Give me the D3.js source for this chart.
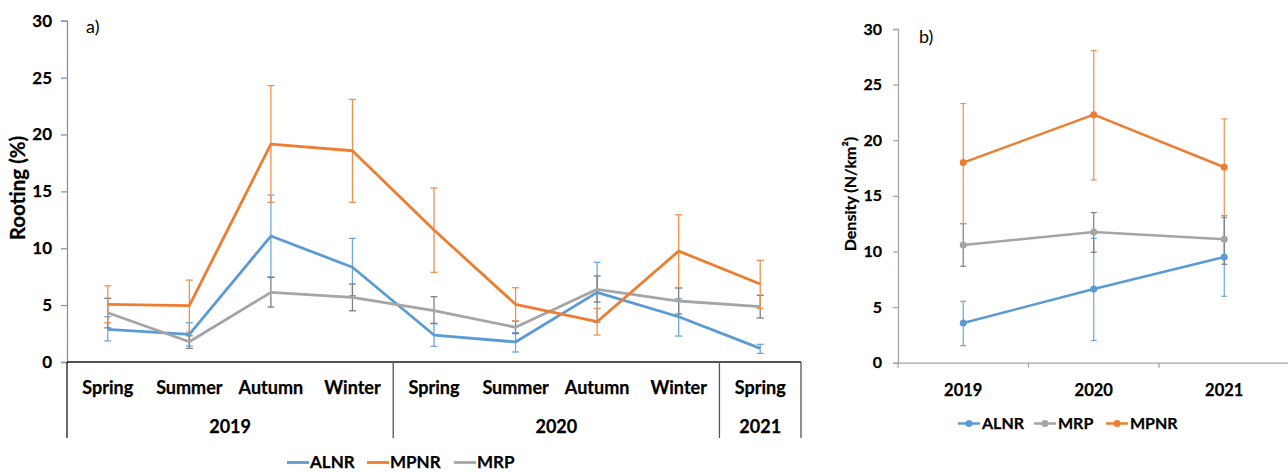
<!DOCTYPE html>
<html>
<head>
<meta charset="utf-8">
<script src="https://cdn.jsdelivr.net/npm/d3@7"></script>
<style>
  html, body { margin: 0; padding: 0; background: #fff; }
  svg { display: block; font-family: Lato, "Open Sans", sans-serif; }
  .bold { font-weight: 700; fill: #000; stroke: #000; stroke-width: 0.25px; }
</style>
</head>
<body>
<svg id="chart" width="1288" height="472"></svg>
<script>
// ---------- Data: panel a) ----------
const seasons = ["Spring","Summer","Autumn","Winter","Spring","Summer","Autumn","Winter","Spring"];
const yearGroups = ["2019","2020","2021"];
const yearGroupSizes = [4, 4, 1];
const rootingTicks = [0, 5, 10, 15, 20, 25, 30];

const rootALNR    = [2.87, 2.43, 11.07, 8.33, 2.37, 1.76, 6.12, 3.98, 1.20];
const rootALNRhi  = [3.98, 3.45, 14.67, 10.87, 3.36, 2.58, 8.76, 5.56, 1.55];
const rootALNRlo  = [1.85, 1.41, 7.47, 5.83, 1.38, 0.88, 3.48, 2.28, 0.76];

const rootMPNR    = [5.07, 4.95, 19.16, 18.57, 11.60, 5.07, 3.54, 9.75, 6.85];
const rootMPNRhi  = [6.70, 7.20, 24.30, 23.08, 15.30, 6.53, 4.72, 12.94, 8.94];
const rootMPNRlo  = [3.45, 2.64, 14.03, 14.03, 7.88, 3.60, 2.37, 6.55, 4.72];

const rootMRP     = [4.33, 1.78, 6.12, 5.68, 4.51, 3.05, 6.39, 5.36, 4.86];
const rootMRPhi   = [5.60, 2.30, 7.44, 6.85, 5.74, 3.60, 7.56, 6.50, 5.86];
const rootMRPlo   = [3.00, 1.20, 4.83, 4.50, 3.40, 2.50, 5.27, 4.22, 3.87];

// ---------- Data: panel b) ----------
const densYears = ["2019","2020","2021"];
const densityTicks = [0, 5, 10, 15, 20, 25, 30];
const densALNR   = [3.57, 6.63, 9.50];
const densALNRhi = [5.52, 11.18, 13.04];
const densALNRlo = [1.53, 2.00, 5.97];
const densMRP    = [10.58, 11.75, 11.10];
const densMRPhi  = [12.50, 13.49, 13.22];
const densMRPlo  = [8.67, 9.93, 8.85];
const densMPNR   = [17.99, 22.30, 17.57];
const densMPNRhi = [23.30, 28.06, 21.92];
const densMPNRlo = [12.50, 16.43, 13.22];

// ---------- Styles ----------
const COL = { ALNR: "#5b9bd5", MPNR: "#ed7d31", MRP: "#a5a5a5" };
const ERRCOL = { ALNR: "#6fa8dc", MPNR: "#f0904f", MRP: "#7f7f7f" };

const svg = d3.select("#chart");

// =============== Panel a ===============
const A = { left: 67, right: 801, top: 20.7, bottom: 362 };
const xA = d3.scaleBand().domain(d3.range(seasons.length)).range([A.left, A.right]).paddingInner(0).paddingOuter(0);
const yA = d3.scaleLinear().domain([0, 30]).range([A.bottom, A.top]);

const gA = svg.append("g");

// y axis
const yAxisA = gA.append("g").attr("transform", `translate(${A.left},0)`)
  .call(d3.axisLeft(yA).tickValues(rootingTicks).tickSize(6).tickPadding(9));
yAxisA.select(".domain").attr("stroke", "#8497b0").attr("stroke-width", 1.3);
yAxisA.selectAll(".tick line").attr("stroke", "#8497b0").attr("stroke-width", 1.3);
yAxisA.selectAll(".tick text").attr("class", "bold").attr("font-size", 17)
  .attr("font-family", "Lato, sans-serif");

// x axis baseline
gA.append("line").attr("x1", A.left).attr("x2", A.right).attr("y1", A.bottom).attr("y2", A.bottom)
  .attr("stroke", "#1a1a1a").attr("stroke-width", 1.5);

// group separators
let cum = 0;
const sepIdx = [0];
yearGroupSizes.forEach(n => { cum += n; sepIdx.push(cum); });
sepIdx.forEach(i => {
  const x = i < seasons.length ? xA(i) : A.right;
  gA.append("line").attr("x1", x).attr("x2", x).attr("y1", A.bottom).attr("y2", 438)
    .attr("stroke", i === 0 ? "#1a1a1a" : "#555").attr("stroke-width", 1.3);
});

// season labels
gA.selectAll("text.season").data(seasons).join("text").attr("class", "season bold")
  .attr("x", (d, i) => xA(i) + xA.bandwidth() / 2).attr("y", 394)
  .attr("text-anchor", "middle").attr("font-size", 18).text(d => d);

// year labels
let start = 0;
yearGroups.forEach((yr, k) => {
  const n = yearGroupSizes[k];
  const x0 = xA(start), x1 = (start + n < seasons.length) ? xA(start + n) : A.right;
  gA.append("text").attr("class", "bold").attr("x", (x0 + x1) / 2).attr("y", 432.5).attr("text-anchor", "middle")
    .attr("font-size", 18).text(yr);
  start += n;
});

// y title
gA.append("text").attr("class", "bold").attr("transform", `translate(25,188) rotate(-90)`)
  .attr("text-anchor", "middle").attr("font-size", 20.5).text("Rooting (%)");

// panel label
gA.append("text").attr("x", 86).attr("y", 33).attr("font-size", 18).attr("font-family", "Lato, sans-serif").text("a)");

const seriesA = [
  { name: "ALNR", v: rootALNR, hi: rootALNRhi, lo: rootALNRlo },
  { name: "MRP", v: rootMRP, hi: rootMRPhi, lo: rootMRPlo },
  { name: "MPNR", v: rootMPNR, hi: rootMPNRhi, lo: rootMPNRlo }
];
const cx = i => xA(i) + xA.bandwidth() / 2;

seriesA.forEach(s => {
  const eg = gA.append("g");
  s.v.forEach((v, i) => {
    const x = cx(i);
    eg.append("line").attr("x1", x).attr("x2", x).attr("y1", yA(s.hi[i])).attr("y2", yA(s.lo[i]))
      .attr("stroke", ERRCOL[s.name]).attr("stroke-width", 1.3);
    [s.hi[i], s.lo[i]].forEach(e => {
      eg.append("line").attr("x1", x - 3.5).attr("x2", x + 3.5).attr("y1", yA(e)).attr("y2", yA(e))
        .attr("stroke", ERRCOL[s.name]).attr("stroke-width", 1.3);
    });
  });
});
const lineA = d3.line().x((d, i) => cx(i)).y(d => yA(d));
seriesA.forEach(s => {
  gA.append("path").attr("d", lineA(s.v)).attr("fill", "none").attr("stroke", COL[s.name])
    .attr("stroke-width", 2.8).attr("stroke-linejoin", "round");
});

// legend a
const legA = [ { name: "ALNR", x: 287 }, { name: "MPNR", x: 367 }, { name: "MRP", x: 454 } ];
legA.forEach(l => {
  gA.append("line").attr("x1", l.x).attr("x2", l.x + 22).attr("y1", 462.5).attr("y2", 462.5)
    .attr("stroke", COL[l.name]).attr("stroke-width", 2.8);
  gA.append("text").attr("class", "bold").attr("x", l.x + 23).attr("y", 467.5).attr("font-size", 17).text(l.name);
});

// =============== Panel b ===============
const B = { left: 898, right: 1288, top: 29, bottom: 362.7 };
const xB = d3.scaleBand().domain(densYears).range([B.left, B.right + 1.5]);
const yB = d3.scaleLinear().domain([0, 30]).range([B.bottom, B.top]);
const gB = svg.append("g");

const yAxisB = gB.append("g").attr("transform", `translate(${B.left},0)`)
  .call(d3.axisLeft(yB).tickValues(densityTicks).tickSize(5).tickPadding(11));
yAxisB.select(".domain").attr("stroke", "#a6a6a6").attr("stroke-width", 1.3);
yAxisB.selectAll(".tick line").attr("stroke", "#a6a6a6").attr("stroke-width", 1.3);
yAxisB.selectAll(".tick text").attr("class", "bold").attr("font-size", 16)
  .attr("font-family", "Lato, sans-serif");

const xAxisB = gB.append("g").attr("transform", `translate(0,${B.bottom})`)
  .call(d3.axisBottom(xB).tickSize(0).tickPadding(22));
xAxisB.select(".domain").attr("stroke", "#a6a6a6").attr("stroke-width", 1.3);
xAxisB.selectAll(".tick text").attr("class", "bold").attr("font-size", 16.5)
  .attr("font-family", "Lato, sans-serif");
// category boundary ticks
densYears.forEach(y => {
  const x = xB(y);
  gB.append("line").attr("x1", x).attr("x2", x).attr("y1", B.bottom).attr("y2", B.bottom + 5)
    .attr("stroke", "#a6a6a6").attr("stroke-width", 1.3);
});

gB.append("text").attr("class", "bold").attr("transform", `translate(856,194) rotate(-90)`)
  .attr("text-anchor", "middle").attr("font-size", 16).text("Density (N/km²)");
gB.append("text").attr("x", 919).attr("y", 43).attr("font-size", 18).attr("font-family", "Lato, sans-serif").text("b)");

const seriesB = [
  { name: "ALNR", v: densALNR, hi: densALNRhi, lo: densALNRlo },
  { name: "MRP", v: densMRP, hi: densMRPhi, lo: densMRPlo },
  { name: "MPNR", v: densMPNR, hi: densMPNRhi, lo: densMPNRlo }
];
const bx = i => xB(densYears[i]) + xB.bandwidth() / 2;
seriesB.forEach(s => {
  const eg = gB.append("g");
  s.v.forEach((v, i) => {
    const x = bx(i);
    eg.append("line").attr("x1", x).attr("x2", x).attr("y1", yB(s.hi[i])).attr("y2", yB(s.lo[i]))
      .attr("stroke", ERRCOL[s.name]).attr("stroke-width", 1.2);
    [s.hi[i], s.lo[i]].forEach(e => {
      eg.append("line").attr("x1", x - 3).attr("x2", x + 3).attr("y1", yB(e)).attr("y2", yB(e))
        .attr("stroke", ERRCOL[s.name]).attr("stroke-width", 1.2);
    });
  });
});
const lineB = d3.line().x((d, i) => bx(i)).y(d => yB(d));
seriesB.forEach(s => {
  gB.append("path").attr("d", lineB(s.v)).attr("fill", "none").attr("stroke", COL[s.name])
    .attr("stroke-width", 2.5).attr("stroke-linejoin", "round");
  gB.selectAll(null).data(s.v).join("circle").attr("cx", (d, i) => bx(i)).attr("cy", d => yB(d))
    .attr("r", 3.5).attr("fill", COL[s.name]);
});

// legend b
const legB = [ { name: "ALNR", x: 958 }, { name: "MRP", x: 1034 }, { name: "MPNR", x: 1106 } ];
legB.forEach(l => {
  gB.append("line").attr("x1", l.x).attr("x2", l.x + 22).attr("y1", 423.5).attr("y2", 423.5)
    .attr("stroke", COL[l.name]).attr("stroke-width", 2.5);
  gB.append("circle").attr("cx", l.x + 11).attr("cy", 423.5).attr("r", 3.5).attr("fill", COL[l.name]);
  gB.append("text").attr("class", "bold").attr("x", l.x + 24).attr("y", 429).attr("font-size", 16).text(l.name);
});
</script>
</body>
</html>
